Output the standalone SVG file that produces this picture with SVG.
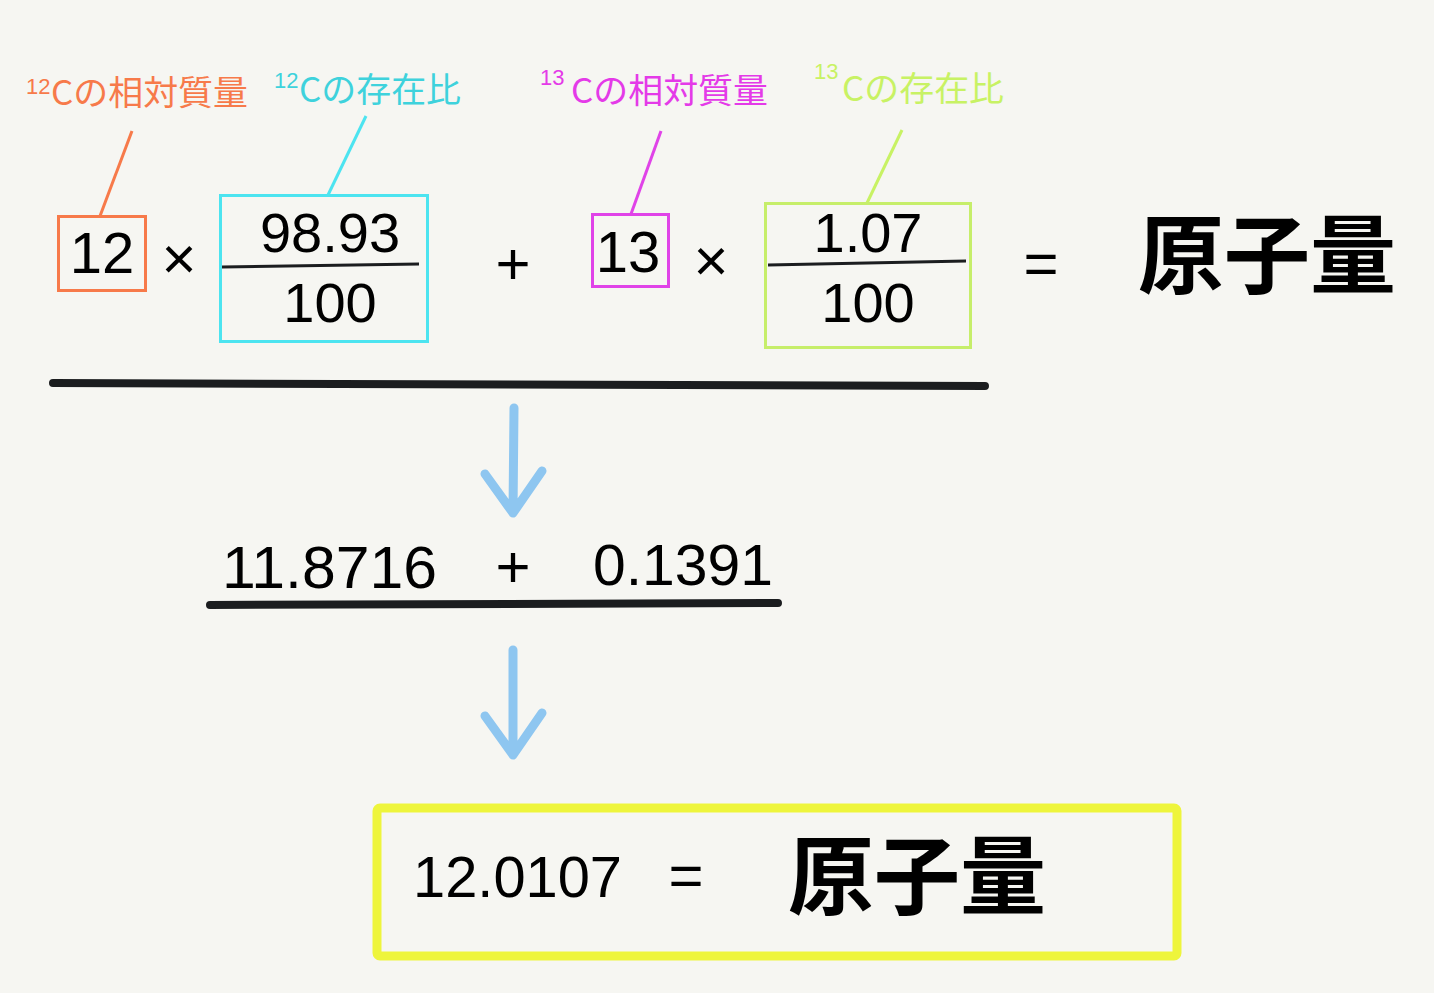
<svg xmlns="http://www.w3.org/2000/svg" width="1434" height="993" viewBox="0 0 1434 993">
<style>
.num{font-family:"Liberation Sans",Arial,sans-serif;fill:#000}
.op{font-family:"Liberation Sans",Arial,sans-serif;fill:#000;font-size:60px}
.lab{font-family:"Noto Sans CJK JP","Liberation Sans",sans-serif;font-size:34px}
.sup{font-family:"Liberation Sans",Arial,sans-serif;font-size:22px}
.big{font-family:"Noto Sans CJK JP",sans-serif;font-weight:bold;font-size:86px;fill:#000}
.arrow{fill:none;stroke:#8ec6f0;stroke-width:9;stroke-linecap:round;stroke-linejoin:round}
.bar{stroke:#1b1d1f;stroke-width:8;stroke-linecap:round}
.frac{stroke:#1b1d1f;stroke-width:3}
</style>
<rect width="1434" height="993" fill="#f6f6f2"/>

<g id="label-12c-mass">
<text class="sup" x="26" y="94" fill="#f77a4a">12</text>
<text class="lab" x="51" y="105" fill="#f77a4a" textLength="197" lengthAdjust="spacingAndGlyphs">Cの相対質量</text>
</g>
<g id="label-12c-ratio">
<text class="sup" x="274" y="88" fill="#3ed2dc">12</text>
<text class="lab" x="299" y="102" fill="#3ed2dc" textLength="162" lengthAdjust="spacingAndGlyphs">Cの存在比</text>
</g>
<g id="label-13c-mass">
<text class="sup" x="540" y="85" fill="#e43ae8">13</text>
<text class="lab" x="571" y="103" fill="#e43ae8" textLength="197" lengthAdjust="spacingAndGlyphs">Cの相対質量</text>
</g>
<g id="label-13c-ratio">
<text class="sup" x="814" y="79" fill="#c8f264">13</text>
<text class="lab" x="842" y="101" fill="#c8f264" textLength="162" lengthAdjust="spacingAndGlyphs">Cの存在比</text>
</g>

<g id="connectors">
<line x1="132" y1="131" x2="100" y2="216" stroke="#f77a4a" stroke-width="3"/>
<line x1="366" y1="116" x2="328" y2="195" stroke="#4ce4f0" stroke-width="3"/>
<line x1="661" y1="131" x2="631" y2="214" stroke="#e043e8" stroke-width="3"/>
<line x1="902" y1="130" x2="867" y2="203" stroke="#c8f264" stroke-width="3"/>
<path class="arrow" d="M514 408 L513 513 M485 474 L513 513 L542 471"/>
<path class="arrow" d="M513 650 L513 755 M485 716 L513 755 L542 713"/>
</g>

<g id="box-12">
<rect x="58.5" y="216.5" width="87" height="74" fill="none" stroke="#f77a4a" stroke-width="3"/>
<text class="num" x="102" y="273" font-size="58" text-anchor="middle">12</text>
</g>
<text class="op" x="179" y="279" text-anchor="middle">×</text>

<g id="box-9893">
<rect x="220.5" y="195.5" width="207" height="146" fill="none" stroke="#4ce4f0" stroke-width="3"/>
<text class="num" x="330" y="252" font-size="56" text-anchor="middle">98.93</text>
<line class="frac" x1="222" y1="267" x2="419" y2="264"/>
<text class="num" x="330" y="322" font-size="56" text-anchor="middle">100</text>
</g>

<text class="op" x="513" y="284" text-anchor="middle">+</text>

<g id="box-13">
<rect x="592.5" y="214.5" width="76" height="72" fill="none" stroke="#e043e8" stroke-width="3"/>
<text class="num" x="628" y="272" font-size="58" text-anchor="middle">13</text>
</g>
<text class="op" x="711" y="281" text-anchor="middle">×</text>

<g id="box-107">
<rect x="765.5" y="203.5" width="205" height="144" fill="none" stroke="#c6ee6a" stroke-width="3"/>
<text class="num" x="868" y="252" font-size="56" text-anchor="middle">1.07</text>
<line class="frac" x1="768" y1="265" x2="966" y2="261"/>
<text class="num" x="868" y="322" font-size="56" text-anchor="middle">100</text>
</g>

<text class="op" x="1041" y="284" text-anchor="middle">=</text>
<g id="result-top">
<text class="big" x="1138" y="287">原子量</text>
</g>

<line class="bar" x1="53" y1="383" x2="985" y2="386"/>

<g id="step2">
<text class="num" x="222" y="588" font-size="60" textLength="215" lengthAdjust="spacingAndGlyphs">11.8716</text>
<text class="op" x="513" y="587" text-anchor="middle">+</text>
<text class="num" x="593" y="585" font-size="58" textLength="180" lengthAdjust="spacingAndGlyphs">0.1391</text>
<line class="bar" x1="210" y1="605" x2="778" y2="603"/>
</g>

<g id="final">
<rect x="377" y="808" width="800" height="148" rx="3" fill="none" stroke="#eef53c" stroke-width="9"/>
<text class="num" x="413" y="897" font-size="58" textLength="209" lengthAdjust="spacingAndGlyphs">12.0107</text>
<text class="op" x="686" y="896" text-anchor="middle">=</text>
<text class="big" x="788" y="908">原子量</text>
</g>
</svg>
